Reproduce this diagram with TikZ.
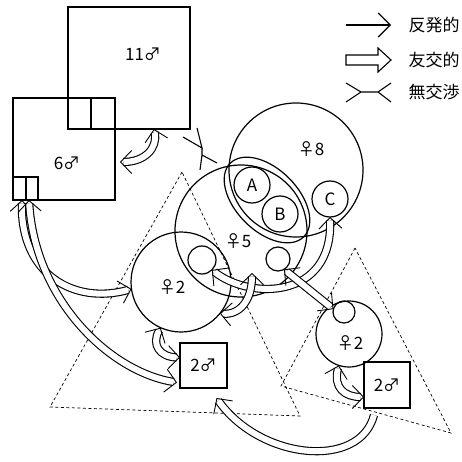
\documentclass[tikz,border=0pt]{standalone}
\usepackage{fontspec}
\setmainfont{Noto Sans CJK JP}
\usetikzlibrary{arrows.meta,shapes.geometric,calc}
\newcommand{\fband}[3]{%
  \draw[bandbody, shorten <=#1, shorten >=3.3pt] #3;
  \draw[bandtip, #2] #3;}
\begin{document}
\begin{tikzpicture}[x=1pt,y=-1pt,
  box/.style={draw, line width=1.2pt, rectangle, inner sep=0pt, outer sep=0pt, font=\fontsize{17pt}{20pt}\selectfont},
  circ/.style={draw, line width=1.2pt, circle, inner sep=0pt, outer sep=0pt, font=\fontsize{17pt}{20pt}\selectfont},
  lab/.style={inner sep=0pt, font=\fontsize{17pt}{20pt}\selectfont},
  tri/.style={line width=0.7pt, dash pattern=on 3pt off 2.5pt},
  bandbody/.style={draw, double=white, double distance=6pt, line width=1.1pt},
  bandtip/.style={draw=white, line width=0.2pt, >={Straight Barb[color=black, length=11pt, width=23pt, line width=0.9pt]}},
  thinarrow/.style={line width=1.1pt, -{Straight Barb[length=12pt, width=24pt]}},
  sym/.style={line width=1.1pt}]
\useasboundingbox (0,0) rectangle (462,462);

% boxes
\node[box, minimum width=122pt, minimum height=122pt] (b11) at (129,68) {};
\node[box, minimum width=102pt, minimum height=102pt] (b6) at (64,149) {};
\draw[line width=1.2pt] (91,98) -- (91,129);
\node[box, minimum width=13pt, minimum height=23pt] (c6a) at (19.5,188.5) {};
\node[box, minimum width=12pt, minimum height=23pt] (c6b) at (32,188.5) {};
\node[lab] (l11) at (143,54) {11♂};
\node[lab] (l6) at (67,163) {6♂};

% triangles
\draw[tri] (182,172) -- (50,407) -- (300,416) -- cycle;
\draw[tri] (355,248) -- (281,386) -- (451,433) -- cycle;

% circles
\node[circ, minimum size=134pt] (f8) at (296,170) {};
\node[circ, minimum size=132pt] (f5) at (241,231) {};
\node[circ, minimum size=100pt] (f2l) at (181,282) {};
\node[circ, minimum size=28pt] (sl) at (202,260) {};
\node[circ, minimum size=24pt] (sr) at (278,259) {};
\node[circ, minimum size=66pt] (f2r) at (349,334) {};
\node[circ, minimum size=22pt] (sr2) at (344,312) {};
\node[draw, ellipse, line width=1.2pt, minimum width=104pt, minimum height=62pt, inner sep=0pt, rotate=-45] (ell) at (267,200) {};
\node[circ, minimum size=36pt] (ca) at (252,185) {A};
\node[circ, minimum size=36pt] (cb) at (280,214) {B};
\node[circ, minimum size=36pt] (cc) at (330,199) {C};
\node[lab] (l8) at (311,149) {♀8};
\node[lab] (l5) at (238,241) {♀5};
\node[lab] (l2l) at (172,287) {♀2};
\node[lab] (l2r) at (350,343) {♀2};

% male boxes
\node[box, minimum width=47pt, minimum height=45pt] (b2l) at (203.5,365.5) {2♂};
\node[box, minimum width=46pt, minimum height=46pt] (b2r) at (387,385) {2♂};

% no-interaction symbol
\draw[sym] (183,137) -- (202,148) -- (197,128) (202,148) -- (202,155) (217,163) -- (202,155) -- (200,170);

% friendly bands
\fband{3.3pt}{<->}{([xshift=25pt]b11.south) .. controls (158,148) and (145,162) .. ([xshift=5pt,yshift=-13pt]b6.east)}
\fband{3.3pt}{<->}{([xshift=9pt]b6.south west) .. controls (20,275) and (75,305) .. (f2l.188)}
\fband{3.3pt}{<->}{([xshift=16pt]b6.south west) .. controls (35,300) and (110,372) .. ([xshift=-3pt,yshift=-17pt]b2l.west)}
\fband{3.3pt}{<->}{(f2l.246) .. controls (151,345) and (160,357) .. ([yshift=8pt]b2l.west)}
\fband{3.3pt}{<->}{(f2r.252) .. controls (333,388) and (345,397) .. ([yshift=-12pt]b2r.west)}
\fband{0pt}{->}{([xshift=-13pt,yshift=-7pt]b2r.south) .. controls (360,470) and (260,460) .. ([xshift=13pt,yshift=-10pt]b2l.south)}
\fband{3.3pt}{<->}{(cc.south) .. controls (333,300) and (250,300) .. (sl.-45)}
\fband{3.3pt}{<->}{(sr.-60) -- (sr2.165)}
\fband{3.3pt}{<->}{([xshift=11pt,yshift=-42pt]f5.center) .. controls (252,300) and (240,315) .. (f2l.-39)}

% legend
\coordinate (g1a) at (346,25);
\coordinate (g1b) at (391,25);
\draw[thinarrow] (g1a) -- (g1b);
\node[lab] (t1) at (434,25) {反発的};
\draw[sym] (346,55) -- (378,55) -- (378,48) -- (391,60) -- (378,72) -- (378,65) -- (346,65) -- cycle;
\node[lab] (t2) at (434,60) {友交的};
\draw[sym] (346,83) -- (361,92) -- (346,102) (361,92) -- (378,92) (391,83) -- (378,92) -- (391,102);
\node[lab] (t3) at (434,92) {無交渉};
\end{tikzpicture}
\end{document}
